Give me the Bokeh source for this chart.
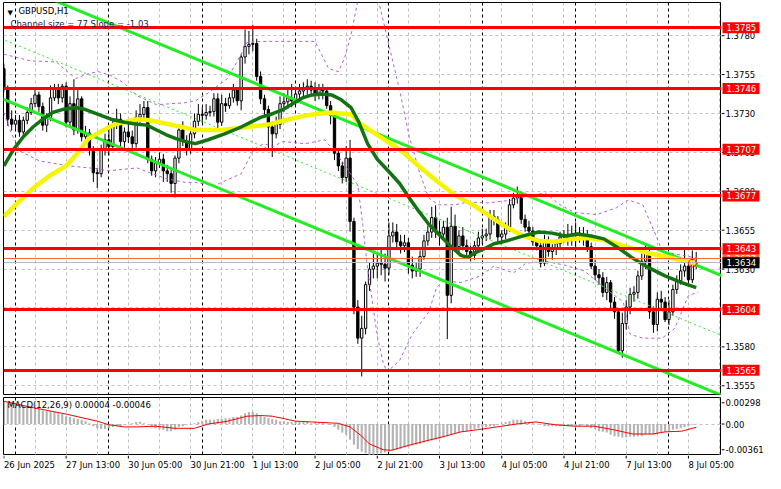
from bokeh.plotting import figure
from bokeh.models import Range1d, Label, ColumnDataSource
from bokeh.layouts import column, row
from bokeh.core.properties import value
from bokeh.embed import file_html
from bokeh.resources import INLINE

FONT = "DejaVu Sans"
FS = "8.5px"

# ---------------- texts ----------------
symbol = "GBPUSD,H1"
channel_text = "Channel size = 77 Slope = -1.03"
macd_text = "MACD(12,26,9) 0.00004 -0.00046"

# ---------------- time axis ----------------
time_tick_bars = [0, 16, 32, 48, 64, 80, 96, 112, 128, 144, 160, 176]
time_tick_labels = ["26 Jun 2025", "27 Jun 13:00", "30 Jun 05:00", "30 Jun 21:00",
                    "1 Jul 13:00", "2 Jul 05:00", "2 Jul 21:00", "3 Jul 13:00",
                    "4 Jul 05:00", "4 Jul 21:00", "7 Jul 13:00", "8 Jul 05:00"]
day_start_bars = [3, 27, 51, 75, 99, 123, 147, 171]
grid_bars = list(range(8, 185, 8))

# ---------------- price axis / levels ----------------
price_ticks = [1.3555, 1.3580, 1.3605, 1.3630, 1.3655, 1.3680, 1.3705, 1.3730, 1.3755, 1.3780]
levels = [1.3785, 1.3746, 1.3707, 1.3677, 1.3643, 1.3604, 1.3565]
ask_price = 1.3637
bid_price = 1.3634
macd_ticks = [0.00298, 0.0, -0.00361]
macd_tick_labels = ["0.00298", "0.00", "-0.00361"]

# ---------------- candles (H1) ----------------
first_open = 1.37588
closes = [
    1.37463, 1.37263, 1.37231, 1.37256, 1.37181, 1.37256, 1.37306, 1.37363, 1.37419, 1.37344,
    1.37225, 1.37275, 1.37400, 1.37463, 1.37400, 1.37475, 1.37244, 1.37363, 1.37194, 1.37394,
    1.37150, 1.37175, 1.37069, 1.36919, 1.36913, 1.37069, 1.37131, 1.37088, 1.37231, 1.37263,
    1.37119, 1.37181, 1.37150, 1.37106, 1.37275, 1.37294, 1.37338, 1.37006, 1.36931, 1.36981,
    1.37006, 1.36931, 1.36913, 1.36850, 1.37013, 1.37194, 1.37119, 1.37075, 1.37169, 1.37250,
    1.37294, 1.37288, 1.37306, 1.37313, 1.37394, 1.37244, 1.37363, 1.37350, 1.37400, 1.37450,
    1.37381, 1.37663, 1.37731, 1.37744, 1.37750, 1.37538, 1.37394, 1.37325, 1.37213, 1.37169,
    1.37231, 1.37363, 1.37375, 1.37400, 1.37381, 1.37425, 1.37444, 1.37456, 1.37475, 1.37450,
    1.37431, 1.37463, 1.37444, 1.37350, 1.37288, 1.37044, 1.36963, 1.36888, 1.37013, 1.36606,
    1.36056, 1.35856, 1.35919, 1.36200, 1.36300, 1.36319, 1.36338, 1.36331, 1.36306, 1.36513,
    1.36538, 1.36475, 1.36450, 1.36469, 1.36325, 1.36288, 1.36300, 1.36381, 1.36481, 1.36538,
    1.36631, 1.36538, 1.36525, 1.36569, 1.36131, 1.36575, 1.36444, 1.36513, 1.36450, 1.36413,
    1.36388, 1.36450, 1.36500, 1.36513, 1.36525, 1.36638, 1.36619, 1.36506, 1.36525, 1.36569,
    1.36713, 1.36756, 1.36769, 1.36619, 1.36569, 1.36544, 1.36475, 1.36450, 1.36338, 1.36475,
    1.36413, 1.36431, 1.36463, 1.36506, 1.36513, 1.36494, 1.36513, 1.36531, 1.36525, 1.36494,
    1.36444, 1.36319, 1.36263, 1.36244, 1.36150, 1.36213, 1.36088, 1.36025, 1.35775, 1.35950,
    1.36056, 1.36138, 1.36150, 1.36256, 1.36350, 1.36400, 1.36025, 1.35944, 1.36106, 1.36088,
    1.35975, 1.36025, 1.36169, 1.36225, 1.36288, 1.36319, 1.36231, 1.36338, 1.36340]
highs = [
    1.3762, 1.3748, 1.3732, 1.3729, 1.3729, 1.3728, 1.3734, 1.3740, 1.3746, 1.3744,
    1.3737, 1.3730, 1.3748, 1.3749, 1.3749, 1.3749, 1.3750, 1.3741, 1.3752, 1.3745,
    1.3741, 1.3722, 1.3720, 1.3709, 1.3695, 1.3710, 1.3717, 1.3722, 1.3727, 1.3733,
    1.3730, 1.3721, 1.3724, 1.3719, 1.3732, 1.3736, 1.3738, 1.3738, 1.3703, 1.3702,
    1.3705, 1.3704, 1.3697, 1.3695, 1.3703, 1.3723, 1.3725, 1.3716, 1.3720, 1.3730,
    1.3736, 1.3734, 1.3736, 1.3735, 1.3743, 1.3743, 1.3742, 1.3740, 1.3743, 1.3749,
    1.3746, 1.3768, 1.3784, 1.3783, 1.3787, 1.3778, 1.3757, 1.3742, 1.3735, 1.3725,
    1.3728, 1.3741, 1.3743, 1.3747, 1.3749, 1.3746, 1.3749, 1.3750, 1.3752, 1.3751,
    1.3750, 1.3749, 1.3749, 1.3747, 1.3738, 1.3731, 1.3707, 1.3699, 1.3709, 1.3713,
    1.3663, 1.3610, 1.3600, 1.3622, 1.3634, 1.3640, 1.3641, 1.3643, 1.3640, 1.3660,
    1.3660, 1.3659, 1.3652, 1.3652, 1.3650, 1.3638, 1.3634, 1.3642, 1.3652, 1.3658,
    1.3670, 1.3671, 1.3661, 1.3661, 1.3663, 1.3670, 1.3665, 1.3655, 1.3657, 1.3649,
    1.3645, 1.3648, 1.3654, 1.3656, 1.3656, 1.3668, 1.3668, 1.3664, 1.3655, 1.3660,
    1.3675, 1.3679, 1.3683, 1.3679, 1.3665, 1.3661, 1.3657, 1.3650, 1.3648, 1.3652,
    1.3651, 1.3646, 1.3649, 1.3654, 1.3655, 1.3659, 1.3658, 1.3660, 1.3657, 1.3657,
    1.3655, 1.3647, 1.3636, 1.3630, 1.3628, 1.3625, 1.3623, 1.3612, 1.3605, 1.3602,
    1.3610, 1.3618, 1.3619, 1.3629, 1.3640, 1.3646, 1.3645, 1.3606, 1.3615, 1.3616,
    1.3612, 1.3610, 1.3620, 1.3626, 1.3633, 1.3644, 1.3635, 1.3642, 1.3641]
lows = [
    1.3744, 1.3722, 1.3719, 1.3720, 1.3715, 1.3716, 1.3723, 1.3729, 1.3734, 1.3731,
    1.3719, 1.3718, 1.3725, 1.3738, 1.3736, 1.3737, 1.3721, 1.3721, 1.3716, 1.3717,
    1.3712, 1.3711, 1.3703, 1.3686, 1.3682, 1.3689, 1.3703, 1.3703, 1.3706, 1.3720,
    1.3709, 1.3708, 1.3711, 1.3707, 1.3708, 1.3724, 1.3727, 1.3698, 1.3690, 1.3689,
    1.3695, 1.3686, 1.3686, 1.3679, 1.3676, 1.3698, 1.3709, 1.3703, 1.3704, 1.3714,
    1.3722, 1.3724, 1.3726, 1.3728, 1.3728, 1.3720, 1.3722, 1.3731, 1.3733, 1.3737,
    1.3735, 1.3732, 1.3762, 1.3768, 1.3770, 1.3751, 1.3736, 1.3728, 1.3707, 1.3702,
    1.3714, 1.3720, 1.3731, 1.3733, 1.3734, 1.3735, 1.3739, 1.3740, 1.3742, 1.3741,
    1.3738, 1.3739, 1.3739, 1.3733, 1.3723, 1.3700, 1.3693, 1.3685, 1.3686, 1.3654,
    1.3601, 1.3582, 1.3561, 1.3588, 1.3616, 1.3624, 1.3624, 1.3626, 1.3622, 1.3626,
    1.3647, 1.3643, 1.3640, 1.3641, 1.3627, 1.3624, 1.3625, 1.3625, 1.3636, 1.3645,
    1.3650, 1.3650, 1.3645, 1.3650, 1.3585, 1.3608, 1.3641, 1.3641, 1.3642, 1.3638,
    1.3635, 1.3636, 1.3642, 1.3646, 1.3648, 1.3649, 1.3658, 1.3646, 1.3646, 1.3649,
    1.3654, 1.3669, 1.3672, 1.3659, 1.3654, 1.3650, 1.3645, 1.3642, 1.3631, 1.3632,
    1.3638, 1.3636, 1.3639, 1.3643, 1.3647, 1.3645, 1.3645, 1.3642, 1.3647, 1.3645,
    1.3641, 1.3630, 1.3623, 1.3620, 1.3612, 1.3610, 1.3605, 1.3598, 1.3576, 1.3573,
    1.3591, 1.3601, 1.3609, 1.3611, 1.3623, 1.3630, 1.3598, 1.3589, 1.3590, 1.3604,
    1.3596, 1.3594, 1.3600, 1.3614, 1.3620, 1.3625, 1.3620, 1.3621, 1.3630]

# ---------------- channel (linear regression channel object) ----------------
channel_upper_at_bar0 = 1.38159
channel_size = 0.0077
channel_slope = -0.000103          # per bar
channel_bars = [-2, 186]

# ---------------- moving averages / bands (vertex readings) ----------------
green_ma_bars = [0, 2.5, 5, 7.5, 10, 12.5, 15, 18.5, 21, 24.25, 27.5, 31, 34.25, 36.75, 39.25,
                 41.75, 44.25, 46.75, 49.25, 52.5, 56.75, 61, 63.5, 66, 69.25, 71.75, 74.25,
                 76.75, 79.25, 81.75, 84.25, 86.75, 89.25, 91.25, 93.5, 96, 99.25, 101.75,
                 104.25, 106.75, 109.25, 112.5, 115, 117.5, 119.25, 121.25, 123.5, 126, 129.25,
                 133.5, 137.5, 141, 144.25, 147.5, 151, 154.25, 157.5, 161.75, 166, 170, 174.25, 178]
green_ma = [1.36963, 1.37069, 1.37150, 1.37213, 1.37263, 1.37306, 1.37325, 1.37338, 1.37325,
            1.37294, 1.37263, 1.37244, 1.37231, 1.37225, 1.37194, 1.37163, 1.37138, 1.37119,
            1.37106, 1.37131, 1.37169, 1.37213, 1.37244, 1.37275, 1.37300, 1.37325, 1.37363,
            1.37400, 1.37419, 1.37425, 1.37419, 1.37388, 1.37338, 1.37244, 1.37106, 1.37006,
            1.36919, 1.36850, 1.36756, 1.36669, 1.36588, 1.36506, 1.36444, 1.36388, 1.36375,
            1.36406, 1.36431, 1.36463, 1.36481, 1.36513, 1.36538, 1.36531, 1.36513, 1.36525,
            1.36513, 1.36494, 1.36444, 1.36369, 1.36306, 1.36256, 1.36213, 1.36181]

yellow_ma_bars = [0, 3.5, 7.5, 11.75, 16, 19.25, 21.75, 24.25, 28.5, 34.25, 37.5, 43.5, 49.25,
                  56, 62.5, 68.5, 74.25, 79.25, 84.25, 89.25, 91.75, 96.75, 101.75, 107.5,
                  111.75, 116, 121, 125, 129.25, 133.5, 137.5, 141.75, 146, 150, 154.25, 157.5,
                  161.75, 166, 170, 174.25, 178]
yellow_ma = [1.36638, 1.36725, 1.36819, 1.36900, 1.36963, 1.37056, 1.37138, 1.37175, 1.37231,
             1.37263, 1.37256, 1.37225, 1.37194, 1.37194, 1.37213, 1.37231, 1.37269, 1.37294,
             1.37306, 1.37294, 1.37231, 1.37150, 1.37069, 1.36944, 1.36856, 1.36775, 1.36706,
             1.36638, 1.36569, 1.36513, 1.36481, 1.36475, 1.36494, 1.36500, 1.36488, 1.36463,
             1.36431, 1.36400, 1.36381, 1.36356, 1.36338]

band_up_bars = [0, 6.75, 13.5, 16, 18.5, 21.75, 24.25, 27.5, 31, 34.25, 39.25, 46.75, 49.25,
                52.5, 57.5, 61, 62.5, 66, 74.25, 80, 83.5, 86, 87.5, 89.25, 91, 93, 96, 97.5,
                99.25, 101.75, 104.25, 106.75, 109.25, 111.75, 116, 119.25, 124.25, 131, 135.5,
                139.25, 143, 146.75, 152.5, 157.5, 160.5, 164.25, 167.5, 169.25, 176, 178.5]
band_up = [1.37681, 1.37638, 1.37631, 1.37575, 1.37525, 1.37556, 1.37569, 1.37544, 1.37494,
           1.37413, 1.37356, 1.37369, 1.37381, 1.37431, 1.37525, 1.37681, 1.37756, 1.37763,
           1.37763, 1.37763, 1.37588, 1.37569, 1.37650, 1.37806, 1.38025, 1.38213, 1.38056,
           1.37900, 1.37713, 1.37450, 1.37150, 1.36931, 1.36756, 1.36713, 1.36713, 1.36731,
           1.36725, 1.36744, 1.36775, 1.36788, 1.36713, 1.36663, 1.36650, 1.36694, 1.36744,
           1.36713, 1.36525, 1.36413, 1.36381, 1.36369]

band_lo_bars = [0, 1.75, 4.25, 9.25, 16.75, 24.25, 26.75, 34.25, 37.5, 41.75, 46.75, 49.25,
                54.25, 61, 64.25, 66.75, 69.25, 71.75, 77.5, 82.5, 87.5, 91, 92.25, 93.5,
                94.75, 96, 97.5, 98.5, 101.75, 105, 109.25, 111.25, 113, 117.5, 122.5, 126,
                131, 134.25, 139.25, 144.25, 149.25, 155, 159.25, 161, 164.25, 169.25, 172.5,
                176, 178.5]
band_lo = [1.37306, 1.37181, 1.37056, 1.36994, 1.36963, 1.36944, 1.36931, 1.36950, 1.36919,
           1.36881, 1.36856, 1.36856, 1.36838, 1.36913, 1.37069, 1.37106, 1.37088, 1.37119,
           1.37106, 1.37131, 1.36975, 1.36838, 1.36588, 1.36306, 1.36088, 1.35869, 1.35700,
           1.35638, 1.35713, 1.35881, 1.36025, 1.36181, 1.36225, 1.36213, 1.36256, 1.36319,
           1.36275, 1.36338, 1.36350, 1.36325, 1.36288, 1.36169, 1.36088, 1.35881, 1.35856,
           1.35856, 1.35919, 1.36131, 1.36150]

# ---------------- MACD ----------------
macd_hist = [
    0.0032, 0.0030, 0.0030, 0.0029,
    0.0028, 0.0026, 0.0025, 0.0023, 0.0022, 0.0021,
    0.0019, 0.0018, 0.0018, 0.0017, 0.0015, 0.0014, 0.0011,
    0.0010, 0.0008, 0.0007, 0.0006, 0.0004, 0.0001,
    -0.0003, -0.0006, -0.0007, -0.0007, -0.0006, -0.0004, -0.0003,
    -0.0003, -0.0001, 0.0000, 0.0001, 0.0003, 0.0003, 0.0001, 0.0000,
    -0.0003, -0.0006, -0.0007, -0.0008, -0.0010, -0.0010, -0.0008, -0.0004,
    -0.0003, -0.0001, 0.0000, 0.0001, 0.0003, 0.0004, 0.0006,
    0.0006, 0.0006, 0.0007, 0.0007, 0.0008, 0.0008, 0.0010, 0.0010,
    0.0012, 0.0015, 0.0017, 0.0017, 0.0015, 0.0012,
    0.0010, 0.0008, 0.0007, 0.0006, 0.0004, 0.0004, 0.0003, 0.0003,
    0.0003, 0.0003, 0.0003, 0.0003, 0.0001, 0.0001, 0.0001, 0.0001, 0.0000, -0.0001,
    -0.0004, -0.0008, -0.0012, -0.0015, -0.0022, -0.0029,
    -0.0035, -0.0039, -0.0041, -0.0043, -0.0043, -0.0041, -0.0041, -0.0040, -0.0039,
    -0.0037, -0.0036, -0.0035, -0.0033, -0.0032, -0.0030, -0.0029, -0.0028, -0.0026, -0.0025,
    -0.0023, -0.0022, -0.0021, -0.0019, -0.0017, -0.0015, -0.0014, -0.0012, -0.0011, -0.0010,
    -0.0008, -0.0007,
    -0.0006, -0.0004, -0.0004, -0.0003, -0.0003, -0.0001,
    0.0001, 0.0003, 0.0004, 0.0006, 0.0006, 0.0006, 0.0004, 0.0003, 0.0001,
    0.0000, -0.0001, -0.0003, -0.0003, -0.0003, -0.0003, -0.0003, -0.0003, -0.0003, -0.0003,
    -0.0003, -0.0003, -0.0001,
    -0.0003, -0.0006, -0.0007, -0.0010, -0.0011, -0.0012, -0.0015, -0.0017, -0.0018,
    -0.0019, -0.0019, -0.0018, -0.0018, -0.0017, -0.0017, -0.0015, -0.0015, -0.0015,
    -0.0014, -0.0012, -0.0011, -0.0010, -0.0008, -0.0007, -0.0006, -0.0004, -0.0003, -0.0001,
    0.00004]
signal_bars = [0, 7.5, 16, 24, 27, 31, 34, 39, 44, 49, 52.5, 57.5, 62.5, 66, 69, 72.5, 75, 79,
               86, 89, 92, 94, 97.5, 99.5, 104, 109, 113.5, 117.5, 121.75, 126.75, 131.75,
               136.75, 141.75, 146.75, 151.75, 156.75, 161.75, 166.75, 170, 174.25, 178]
signal = [0.0032, 0.0023, 0.0014, 0.0004, -0.0001, -0.0004, -0.0004, -0.0003, -0.0006, -0.0006,
          0.0000, 0.0004, 0.0011, 0.0012, 0.0011, 0.0007, 0.0004, 0.0003, 0.0001, -0.0004,
          -0.0017, -0.0028, -0.0036, -0.0037, -0.0030, -0.0023, -0.0017, -0.0011, -0.0008,
          -0.0004, 0.0000, 0.0003, -0.0001, -0.0003, -0.0003, -0.0008, -0.0014, -0.0014,
          -0.0011, -0.0010, -0.00046]

# ================= layout constants =================
FRAME_W = 718
AXIS_W = 43
PRICE_H = 392
MACD_H = 58
TIME_H = 16
GRID = "#c0c0c0"
PURPLE = "#b45fdc"
LIME = "#22ee22"

xr = Range1d(-0.1, 184.5)
yr = Range1d(1.35494, 1.38013)
mr = Range1d(-0.00442, 0.00373)


def base_fig(**kw):
    f = figure(output_backend="svg", toolbar_location=None,
               x_axis_location=None, y_axis_location=None, **kw)
    f.xgrid.visible = False
    f.ygrid.visible = False
    f.background_fill_color = "white"
    f.border_fill_color = "white"
    return f


# ---------------- price panel ----------------
p = base_fig(frame_width=FRAME_W, frame_height=PRICE_H, x_range=xr, y_range=yr,
             min_border_left=3, min_border_right=0, min_border_top=2, min_border_bottom=1)
p.outline_line_color = "black"

# grid and day separators (drawn first, behind everything)
p.hspan(y=price_ticks, line_color=GRID, line_dash="3 3", line_width=1)
p.vspan(x=grid_bars, line_color=GRID, line_dash="3 3", line_width=1)
p.vspan(x=day_start_bars, line_color="black", line_dash="3 3", line_width=1)

# candles
bars = list(range(len(closes)))
opens = [first_open] + closes[:-1]
src = ColumnDataSource(dict(
    x=bars, high=highs, low=lows,
    top=[max(o, c) for o, c in zip(opens, closes)],
    bottom=[min(o, c) for o, c in zip(opens, closes)],
    fill=["white" if c >= o else "black" for o, c in zip(opens, closes)],
))
p.segment(x0="x", y0="high", x1="x", y1="low", source=src, line_color="black", line_width=1)
p.vbar(x="x", width=0.6, top="top", bottom="bottom", source=src,
       fill_color="fill", line_color="black", line_width=1)

# bollinger-type bands
p.line(band_up_bars, band_up, line_color=PURPLE, line_dash="3 3", line_width=1)
p.line(band_lo_bars, band_lo, line_color=PURPLE, line_dash="3 3", line_width=1)

# regression channel
ch_up = [channel_upper_at_bar0 + channel_slope * b for b in channel_bars]
ch_lo = [v - channel_size for v in ch_up]
ch_mid = [v - channel_size / 2 for v in ch_up]
p.line(channel_bars, ch_mid, line_color=LIME, line_dash="2 3", line_width=1)
p.line(channel_bars, ch_up, line_color=LIME, line_width=3)
p.line(channel_bars, ch_lo, line_color=LIME, line_width=3)

# moving averages
p.line(yellow_ma_bars, yellow_ma, line_color="#f5f500", line_width=4.5)
p.line(green_ma_bars, green_ma, line_color="#137313", line_width=3.5)

# horizontal levels + bid/ask lines
p.hspan(y=levels, line_color="#ff0000", line_width=3)
p.hspan(y=[ask_price], line_color="#ff6a33", line_width=1)
p.hspan(y=[bid_price], line_color="#b8b8b8", line_width=1)

# alert circle on the latest completed bar
p.scatter(x=[bars[-2]], y=[closes[-2]], marker="circle", size=8,
          fill_color=None, line_color="#ff2020", line_width=1)

# header texts
p.add_layout(Label(x=xr.start, y=yr.end, x_offset=4, y_offset=-6, text="\u25BC",
                   text_font="DejaVu Sans", text_font_size="7px", text_color="black",
                   text_baseline="top"))
p.add_layout(Label(x=xr.start, y=yr.end, x_offset=15, y_offset=-3, text=symbol,
                   text_font=FONT, text_font_size=FS, text_color="black", text_baseline="top"))
p.add_layout(Label(x=xr.start, y=yr.end, x_offset=7, y_offset=-16, text=channel_text,
                   text_font=FONT, text_font_size=FS, text_color="#1c1c55", text_baseline="top"))

# ---------------- price axis (right) ----------------
pa = base_fig(frame_width=AXIS_W, frame_height=PRICE_H, x_range=Range1d(0, AXIS_W), y_range=yr,
              min_border_left=0, min_border_right=0, min_border_top=2, min_border_bottom=1)
pa.outline_line_color = None
pa.segment(x0=0, y0=price_ticks, x1=3, y1=price_ticks, line_color="black", line_width=1)
pa.text(x=4, y=price_ticks, text=["%.4f" % t for t in price_ticks], text_font=value(FONT),
        text_font_size=FS, text_baseline="middle", text_align="left", text_color="black")


def tags(yvals, bg):
    pa.rect(x=19.5, y=yvals, width=37, height=11, height_units="screen",
            fill_color=bg, line_color=None)
    pa.text(x=5, y=yvals, text=["%.4f" % v for v in yvals], text_font=value(FONT),
            text_font_size=FS, text_baseline="middle", text_align="left", text_color="white")


tags([ask_price], "#ff6a33")
tags(levels, "#ff0000")
tags([bid_price], "#000000")

# ---------------- MACD panel ----------------
m = base_fig(frame_width=FRAME_W, frame_height=MACD_H, x_range=xr, y_range=mr,
             min_border_left=3, min_border_right=0, min_border_top=2, min_border_bottom=0)
m.outline_line_color = "black"
m.vspan(x=grid_bars, line_color=GRID, line_dash="3 3", line_width=1)
m.vspan(x=day_start_bars, line_color="black", line_dash="3 3", line_width=1)
m.hspan(y=[0], line_color=GRID, line_dash="3 3", line_width=1)
m.vbar(x=bars, top=macd_hist, bottom=0, width=0.55, fill_color="#b4b4b4", line_color=None)
m.line(signal_bars, signal, line_color="#ff0000", line_width=1)
m.add_layout(Label(x=xr.start, y=mr.end, x_offset=4, y_offset=-2, text=macd_text,
                   text_font=FONT, text_font_size=FS, text_color="black", text_baseline="top"))

ma = base_fig(frame_width=AXIS_W, frame_height=MACD_H, x_range=Range1d(0, AXIS_W), y_range=mr,
              min_border_left=0, min_border_right=0, min_border_top=2, min_border_bottom=0)
ma.outline_line_color = None
ma.segment(x0=0, y0=macd_ticks, x1=3, y1=macd_ticks, line_color="black", line_width=1)
ma.text(x=4, y=macd_ticks, text=macd_tick_labels, text_font=value(FONT),
        text_font_size=FS, text_baseline="middle", text_align="left", text_color="black")

# ---------------- time axis (bottom) ----------------
t_span = (xr.end - xr.start) * (FRAME_W + AXIS_W) / FRAME_W
t = base_fig(frame_width=FRAME_W + AXIS_W, frame_height=TIME_H,
             x_range=Range1d(xr.start, xr.start + t_span), y_range=Range1d(0, TIME_H),
             min_border_left=3, min_border_right=0, min_border_top=0, min_border_bottom=0)
t.outline_line_color = None
t.segment(x0=time_tick_bars, y0=TIME_H, x1=time_tick_bars, y1=TIME_H - 3,
          line_color="black", line_width=1)
t.text(x=time_tick_bars, y=TIME_H - 4, text=time_tick_labels, text_font=value(FONT),
       text_font_size=FS, text_baseline="top", text_align="left", text_color="black")

layout = column(row(p, pa), row(m, ma), t)
open("out.html", "w").write(file_html(layout, INLINE))
